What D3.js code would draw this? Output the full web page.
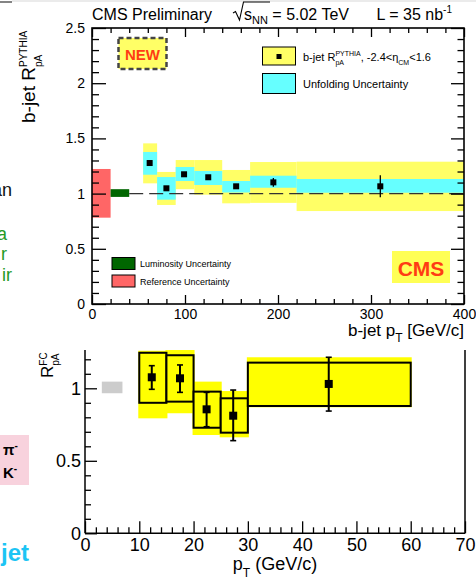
<!DOCTYPE html>
<html>
<head>
<meta charset="utf-8">
<script src="https://cdn.jsdelivr.net/npm/d3@7"></script>
<style>
  body { margin: 0; background: #fff; }
  svg { display: block; font-family: "Liberation Sans", Arial, Helvetica, sans-serif; }
  text { white-space: pre; }
</style>
</head>
<body>
<script>
// ---------- top panel: b-jet R_pA^PYTHIA vs pT ----------
const bjetBinLo = [55, 70, 90, 110, 140, 170, 220];
const bjetBinHi = [70, 90, 110, 140, 170, 220, 400];
const bjetPt    = [62, 80, 99, 125, 155, 195, 310];
const bjetRpA   = [1.277, 1.048, 1.175, 1.148, 1.066, 1.102, 1.066];
const bjetStat  = [0.023, 0.012, 0.012, 0.012, 0.012, 0.04, 0.10];
const bjetSysLo = [1.093, 0.897, 1.040, 0.990, 0.912, 0.916, 0.842];
const bjetSysHi = [1.455, 1.196, 1.304, 1.304, 1.214, 1.286, 1.289];
const bjetUnfLo = [1.171, 0.945, 1.114, 1.078, 1.010, 1.053, 1.008];
const bjetUnfHi = [1.377, 1.150, 1.241, 1.205, 1.114, 1.162, 1.132];
// [pT low, pT high, R low, R high]
const refUnc  = [0, 20, 0.782, 1.223];
const lumiUnc = [20, 40, 0.97, 1.04];
const topXMajor = [0, 100, 200, 300, 400];
const topYMajor = [0, 0.5, 1, 1.5, 2, 2.5];

// ---------- bottom panel: R_pA^FC vs pT ----------
const fcBinLo  = [10, 15, 20, 25, 30];
const fcBinHi  = [15, 20, 25, 30, 60];
const fcPt     = [12.3, 17.5, 22.4, 27.3, 44.9];
const fcRpA    = [1.076, 1.069, 0.855, 0.811, 1.030];
const fcErrLo  = [0.993, 0.972, 0.735, 0.639, 0.843];
const fcErrHi  = [1.156, 1.161, 0.972, 0.988, 1.214];
const fcBoxLo  = [0.900, 0.908, 0.728, 0.694, 0.878];
const fcBoxHi  = [1.245, 1.228, 0.977, 0.931, 1.177];
const fcBandLo = [0.793, 0.828, 0.678, 0.662, 0.869];
const fcBandHi = [1.259, 1.264, 1.046, 0.981, 1.214];
const fcNorm   = [3.1, 6.9, 0.966, 1.046];
const botXMajor = [0, 10, 20, 30, 40, 50, 60, 70];
const botYMajor = [0, 0.5, 1];

const W = 476, H = 586;
const svg = d3.select("body").append("svg").attr("width", W).attr("height", H);
svg.append("rect").attr("width", W).attr("height", H).attr("fill", "#fff");

// text made of several runs (sub/superscripts); stacked runs share a start
function rich(parent, x, y, parts, anchor, rotate) {
  const g = parent.append("g")
    .attr("transform", `translate(${x},${y})` + (rotate ? ` rotate(${rotate})` : ""));
  let cx = 0, prevStart = 0;
  parts.forEach(p => {
    const start = p.stack ? prevStart : cx;
    const t = g.append("text").attr("x", start).attr("y", p.dy || 0)
      .attr("font-size", p.size)
      .attr("font-weight", p.bold ? "bold" : null)
      .attr("fill", p.fill || "#000").text(p.t);
    const w = t.node().getComputedTextLength();
    prevStart = start;
    cx = Math.max(cx, start + w);
  });
  const shift = anchor === "end" ? -cx : anchor === "middle" ? -cx / 2 : 0;
  if (shift) g.selectAll("text").attr("x", function () { return +this.getAttribute("x") + shift; });
  return g;
}

// faint strip along the top edge
svg.append("line").attr("x1", 12).attr("x2", W).attr("y1", 1).attr("y2", 1)
  .attr("stroke", "#e4e4e4").attr("stroke-width", 1.5);
svg.append("line").attr("x1", 0).attr("x2", 12).attr("y1", 2).attr("y2", 2)
  .attr("stroke", "#333").attr("stroke-width", 1.2);

// ---------- left-edge fragments ----------
svg.append("text").attr("x", 12).attr("y", 196).attr("text-anchor", "end")
  .attr("font-size", 18).attr("fill", "#111").text("an");
[["a", 7, 240], ["r", 7, 260], ["ir", 12, 281]].forEach(([t, x, y]) =>
  svg.append("text").attr("x", x).attr("y", y).attr("text-anchor", "end")
    .attr("font-size", 18).attr("fill", "#249a24").text(t));
svg.append("rect").attr("x", 0).attr("y", 435).attr("width", 29).attr("height", 50).attr("fill", "#f8d2dd");
rich(svg, 3, 455, [{ t: "π", size: 15, bold: true }, { t: "-", size: 10, bold: true, dy: -6 }]);
rich(svg, 3, 478, [{ t: "K", size: 15, bold: true }, { t: "-", size: 10, bold: true, dy: -6 }]);
svg.append("text").attr("x", 29).attr("y", 561).attr("text-anchor", "end")
  .attr("font-size", 24).attr("font-weight", "bold").attr("fill", "#1cc4f4").text("jet");

// =================== TOP PANEL ===================
const xT = d3.scaleLinear().domain([0, 400]).range([92, 464]);
const yT = d3.scaleLinear().domain([0, 2.5]).range([304, 28]);
const topG = svg.append("g");

topG.append("rect").attr("x", xT(refUnc[0])).attr("width", xT(refUnc[1]) - xT(refUnc[0]))
  .attr("y", yT(refUnc[3])).attr("height", yT(refUnc[2]) - yT(refUnc[3])).attr("fill", "#ff6666");
topG.append("rect").attr("x", xT(lumiUnc[0])).attr("width", xT(lumiUnc[1]) - xT(lumiUnc[0]))
  .attr("y", yT(lumiUnc[3])).attr("height", yT(lumiUnc[2]) - yT(lumiUnc[3])).attr("fill", "#006600");

const bi = d3.range(bjetPt.length);
topG.selectAll(".sys").data(bi).join("rect")
  .attr("x", i => xT(bjetBinLo[i])).attr("width", i => xT(bjetBinHi[i]) - xT(bjetBinLo[i]))
  .attr("y", i => yT(bjetSysHi[i])).attr("height", i => yT(bjetSysLo[i]) - yT(bjetSysHi[i]))
  .attr("fill", "#ffff66");
topG.selectAll(".unf").data(bi).join("rect")
  .attr("x", i => xT(bjetBinLo[i])).attr("width", i => xT(bjetBinHi[i]) - xT(bjetBinLo[i]))
  .attr("y", i => yT(bjetUnfHi[i])).attr("height", i => yT(bjetUnfLo[i]) - yT(bjetUnfHi[i]))
  .attr("fill", "#66ffff");

// unity reference line
topG.append("line").attr("x1", xT(40)).attr("x2", xT(400)).attr("y1", yT(1)).attr("y2", yT(1))
  .attr("stroke", "#333").attr("stroke-width", 1.3).attr("stroke-dasharray", "14,6");

topG.selectAll(".err").data(bi).join("line")
  .attr("x1", i => xT(bjetPt[i])).attr("x2", i => xT(bjetPt[i]))
  .attr("y1", i => yT(bjetRpA[i] + bjetStat[i])).attr("y2", i => yT(bjetRpA[i] - bjetStat[i]))
  .attr("stroke", "#000").attr("stroke-width", 1.3);
topG.selectAll(".pt").data(bi).join("rect")
  .attr("x", i => xT(bjetPt[i]) - 3).attr("y", i => yT(bjetRpA[i]) - 3)
  .attr("width", 6).attr("height", 6).attr("fill", "#000");

// axes (ticks point into the frame)
const topXMinor = d3.range(0, 401, 20).filter(v => v % 100 !== 0);
const topYMinor = d3.range(0, 26).map(v => v / 10).filter(v => Math.round(v * 10) % 5 !== 0);
function styleAxis(g, fs) {
  g.select(".domain").remove();
  g.selectAll("line").attr("stroke", "#000").attr("stroke-width", 1.3);
  g.selectAll("text").attr("font-size", fs).attr("fill", "#000")
    .style("font-family", '"Liberation Sans", Arial, sans-serif');
}
const fmt = d3.format("~g");
topG.append("g").attr("transform", `translate(0,${yT(0)})`)
  .call(d3.axisBottom(xT).tickValues(topXMajor).tickFormat(fmt).tickSizeInner(-9).tickSizeOuter(0).tickPadding(5))
  .call(g => styleAxis(g, 14));
topG.append("g").attr("transform", `translate(0,${yT(0)})`)
  .call(d3.axisBottom(xT).tickValues(topXMinor).tickFormat("").tickSizeInner(-5).tickSizeOuter(0))
  .call(g => styleAxis(g, 14));
topG.append("g").attr("transform", `translate(0,${yT(2.5)})`)
  .call(d3.axisTop(xT).tickValues(topXMajor).tickFormat("").tickSizeInner(-9).tickSizeOuter(0))
  .call(g => styleAxis(g, 14));
topG.append("g").attr("transform", `translate(0,${yT(2.5)})`)
  .call(d3.axisTop(xT).tickValues(topXMinor).tickFormat("").tickSizeInner(-5).tickSizeOuter(0))
  .call(g => styleAxis(g, 14));
topG.append("g").attr("transform", `translate(${xT(0)},0)`)
  .call(d3.axisLeft(yT).tickValues(topYMajor).tickFormat(fmt).tickSizeInner(-14).tickSizeOuter(0).tickPadding(7))
  .call(g => styleAxis(g, 14));
topG.append("g").attr("transform", `translate(${xT(0)},0)`)
  .call(d3.axisLeft(yT).tickValues(topYMinor).tickFormat("").tickSizeInner(-7).tickSizeOuter(0))
  .call(g => styleAxis(g, 14));
topG.append("g").attr("transform", `translate(${xT(400)},0)`)
  .call(d3.axisRight(yT).tickValues(topYMajor).tickFormat("").tickSizeInner(-13).tickSizeOuter(0))
  .call(g => styleAxis(g, 14));
topG.append("g").attr("transform", `translate(${xT(400)},0)`)
  .call(d3.axisRight(yT).tickValues(topYMinor).tickFormat("").tickSizeInner(-6.5).tickSizeOuter(0))
  .call(g => styleAxis(g, 14));
topG.append("rect").attr("x", xT(0)).attr("y", yT(2.5))
  .attr("width", xT(400) - xT(0)).attr("height", yT(0) - yT(2.5))
  .attr("fill", "none").attr("stroke", "#000").attr("stroke-width", 1.6);

// header
rich(svg, 92, 20, [{ t: "CMS Preliminary", size: 16 }]);
svg.append("path").attr("d", "M233,13 L235.5,11.5 L239.5,20 L243.5,2 L270,2")
  .attr("fill", "none").attr("stroke", "#000").attr("stroke-width", 1.1);
rich(svg, 244, 20, [{ t: "s", size: 16 }, { t: "NN", size: 11, dy: 4 }, { t: " = 5.02 TeV", size: 16 }]);
rich(svg, 452, 20, [{ t: "L = 35 nb", size: 16 }, { t: "-1", size: 10, dy: -7 }], "end");

// axis titles
rich(svg, 35, 123, [
  { t: "b-jet R", size: 19 },
  { t: "PYTHIA", size: 10, dy: -8.5 },
  { t: "pA", size: 10, dy: 7, stack: true }
], null, -90);
rich(svg, 464, 336, [
  { t: "b-jet p", size: 17 }, { t: "T", size: 12, dy: 6 }, { t: " [GeV/c]", size: 17 }
], "end");

// NEW tag
svg.append("rect").attr("x", 118.5).attr("y", 38).attr("width", 48).attr("height", 31)
  .attr("fill", "#ffff66").attr("stroke", "#444").attr("stroke-width", 2.5).attr("stroke-dasharray", "5,3");
svg.append("text").attr("x", 142.5).attr("y", 59.5).attr("text-anchor", "middle")
  .attr("font-size", 15).attr("font-weight", "bold").attr("fill", "#ff3c14").text("NEW");

// CMS tag
svg.append("rect").attr("x", 392).attr("y", 251).attr("width", 58).attr("height", 32).attr("fill", "#ffff55");
svg.append("text").attr("x", 421).attr("y", 276).attr("text-anchor", "middle")
  .attr("font-size", 21).attr("font-weight", "bold").attr("fill", "#ff3c14").text("CMS");

// legend (upper)
svg.append("rect").attr("x", 262.5).attr("y", 47).attr("width", 33).attr("height", 18)
  .attr("fill", "#ffff66").attr("stroke", "#000").attr("stroke-width", 1);
svg.append("rect").attr("x", 276.5).attr("y", 54).attr("width", 5).attr("height", 5).attr("fill", "#000");
rich(svg, 303, 60.5, [
  { t: "b-jet R", size: 11 }, { t: "PYTHIA", size: 7, dy: -4.5 }, { t: "pA", size: 7, dy: 4, stack: true },
  { t: ", -2.4<η", size: 11 }, { t: "CM", size: 7, dy: 4 }, { t: "<1.6", size: 11 }
]);
svg.append("rect").attr("x", 262.5).attr("y", 73.5).attr("width", 33).attr("height", 20)
  .attr("fill", "#66ffff").attr("stroke", "#000").attr("stroke-width", 1);
rich(svg, 303, 88, [{ t: "Unfolding Uncertainty", size: 11 }]);

// legend (lower)
svg.append("rect").attr("x", 112).attr("y", 257.5).attr("width", 23).attr("height", 12)
  .attr("fill", "#006600").attr("stroke", "#000").attr("stroke-width", 1);
rich(svg, 140, 267, [{ t: "Luminosity Uncertainty", size: 9 }]);
svg.append("rect").attr("x", 112).attr("y", 275).attr("width", 23).attr("height", 12)
  .attr("fill", "#ff6666").attr("stroke", "#000").attr("stroke-width", 1);
rich(svg, 140, 285, [{ t: "Reference Uncertainty", size: 9 }]);

// =================== BOTTOM PANEL ===================
const xB = d3.scaleLinear().domain([0, 70]).range([85, 465]);
const yB = d3.scaleLinear().domain([0, 1]).range([533.3, 388.3]);
const yBTop = 1.264;
const botG = svg.append("g");
const fi = d3.range(fcPt.length);

botG.append("rect").attr("x", xB(fcNorm[0])).attr("width", xB(fcNorm[1]) - xB(fcNorm[0]))
  .attr("y", yB(fcNorm[3])).attr("height", yB(fcNorm[2]) - yB(fcNorm[3])).attr("fill", "#cccccc");

botG.selectAll(".band").data(fi).join("rect")
  .attr("x", i => xB(fcBinLo[i]) - 1).attr("width", i => xB(fcBinHi[i]) - xB(fcBinLo[i]) + 2)
  .attr("y", i => yB(fcBandHi[i])).attr("height", i => yB(fcBandLo[i]) - yB(fcBandHi[i]))
  .attr("fill", "#ffff00");
botG.selectAll(".box").data(fi).join("rect")
  .attr("x", i => xB(fcBinLo[i])).attr("width", i => xB(fcBinHi[i]) - xB(fcBinLo[i]))
  .attr("y", i => yB(fcBoxHi[i])).attr("height", i => yB(fcBoxLo[i]) - yB(fcBoxHi[i]))
  .attr("fill", "#ffff00").attr("stroke", "#000").attr("stroke-width", 2);

botG.selectAll(".ev").data(fi).join("line")
  .attr("x1", i => xB(fcPt[i])).attr("x2", i => xB(fcPt[i]))
  .attr("y1", i => yB(fcErrHi[i])).attr("y2", i => yB(fcErrLo[i]))
  .attr("stroke", "#000").attr("stroke-width", 2);
[fcErrHi, fcErrLo].forEach(arr =>
  botG.selectAll(null).data(fi).join("line")
    .attr("x1", i => xB(fcPt[i]) - 3).attr("x2", i => xB(fcPt[i]) + 3)
    .attr("y1", i => yB(arr[i])).attr("y2", i => yB(arr[i]))
    .attr("stroke", "#000").attr("stroke-width", 1.6));
botG.selectAll(".mk").data(fi).join("rect")
  .attr("x", i => xB(fcPt[i]) - 4).attr("y", i => yB(fcRpA[i]) - 4)
  .attr("width", 8).attr("height", 8).attr("fill", "#000");

const botXMinor = d3.range(0, 71, 2).filter(v => v % 10 !== 0);
const botYMinor = d3.range(1, 13).map(v => v / 10).filter(v => Math.round(v * 10) % 5 !== 0);
botG.append("g").attr("transform", `translate(0,${yB(0)})`)
  .call(d3.axisBottom(xB).tickValues(botXMajor).tickFormat(fmt).tickSizeInner(-12).tickSizeOuter(0).tickPadding(5))
  .call(g => styleAxis(g, 18));
botG.append("g").attr("transform", `translate(0,${yB(0)})`)
  .call(d3.axisBottom(xB).tickValues(botXMinor).tickFormat("").tickSizeInner(-6).tickSizeOuter(0))
  .call(g => styleAxis(g, 18));
botG.append("g").attr("transform", `translate(${xB(0)},0)`)
  .call(d3.axisLeft(yB).tickValues(botYMajor).tickFormat(fmt).tickSizeInner(-12).tickSizeOuter(0).tickPadding(4))
  .call(g => styleAxis(g, 18));
botG.append("g").attr("transform", `translate(${xB(0)},0)`)
  .call(d3.axisLeft(yB).tickValues(botYMinor).tickFormat("").tickSizeInner(-6).tickSizeOuter(0))
  .call(g => styleAxis(g, 18));
botG.append("line").attr("x1", xB(0)).attr("x2", xB(0)).attr("y1", yB(yBTop)).attr("y2", yB(0))
  .attr("stroke", "#000").attr("stroke-width", 1.5);
botG.append("line").attr("x1", xB(0)).attr("x2", xB(70)).attr("y1", yB(0)).attr("y2", yB(0))
  .attr("stroke", "#000").attr("stroke-width", 1.5);
botG.append("line").attr("x1", xB(70)).attr("x2", xB(70)).attr("y1", yB(yBTop)).attr("y2", yB(0))
  .attr("stroke", "#000").attr("stroke-width", 1.5);

rich(svg, 275, 570, [
  { t: "p", size: 18 }, { t: "T", size: 12, dy: 7 }, { t: " (GeV/c)", size: 18 }
], "middle");
rich(svg, 52.5, 378, [
  { t: "R", size: 17 },
  { t: "FC", size: 10, dy: -6 },
  { t: "pA", size: 10, dy: 6, stack: true }
], null, -90);
</script>
</body>
</html>
